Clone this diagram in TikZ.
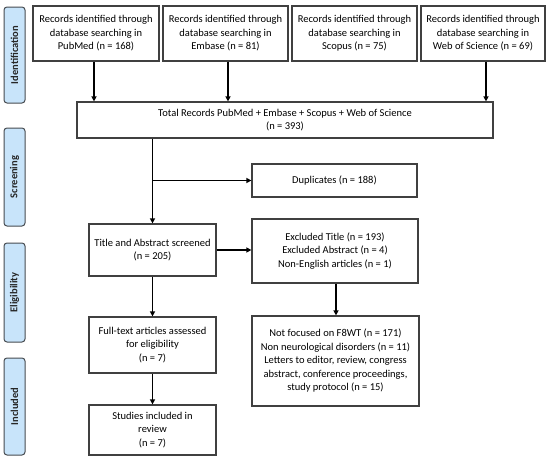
\documentclass[tikz,border=0pt]{standalone}
\usepackage{fontspec}
\setmainfont{Carlito}
\usetikzlibrary{arrows.meta}
\definecolor{sideblue}{RGB}{200,228,250}
\definecolor{sideedge}{RGB}{70,75,80}
\begin{document}
\begin{tikzpicture}[x=1pt,y=-1pt,
  box/.style={draw=black!75,line width=1.2pt,fill=white,inner sep=0pt,align=center,font=\fontsize{10.5}{13.5}\selectfont},
  side/.style={draw=sideedge,line width=1pt,fill=sideblue,rounded corners=3pt,inner sep=0pt},
  sidetxt/.style={rotate=90,font=\bfseries\fontsize{10.5}{12}\selectfont,text=black!85},
  arr/.style={line width=1.3pt,-{Triangle[length=5pt,width=5pt]}},
  ln/.style={line width=1.3pt}]
\useasboundingbox (0,0) rectangle (550,463);
% side labels
\newcommand{\sidelab}[4]{%
  \node[side,minimum width=21pt,minimum height=#3-#2] (#1) at (14.5,{(#2+#3)/2}) {};
  \node[sidetxt] at (#1.center) {#4};}
\sidelab{sid}{7}{103}{Identification}
\sidelab{sscr}{128}{226}{Screening}
\sidelab{selig}{243}{342}{Eligibility}
\sidelab{sinc}{358}{455}{Included}
% boxes
\newcommand{\bx}[6]{%
  \node[box,minimum width=#4-#2,minimum height=#5-#3] (#1) at ({(#2+#4)/2},{(#3+#5)/2}) {#6};}
\bx{pub}{33}{6}{159}{61}{Records identified through\\database searching in\\PubMed (n = 168)}
\bx{emb}{163}{6}{288}{61}{Records identified through\\database searching in\\Embase (n = 81)}
\bx{sco}{292}{6}{417}{61}{Records identified through\\database searching in\\Scopus (n = 75)}
\bx{wos}{421}{6}{545}{61}{Records identified through\\database searching in\\Web of Science (n = 69)}
\bx{tot}{77}{102}{493}{138}{Total Records PubMed + Embase + Scopus + Web of Science\\(n = 393)}
\bx{dup}{252}{164}{417}{197}{Duplicates (n = 188)}
\bx{tas}{89}{224}{216}{276}{Title and Abstract screened\\(n = 205)}
\bx{exc}{252}{219}{418}{283}{Excluded Title (n = 193)\\Excluded Abstract (n = 4)\\Non-English articles (n = 1)}
\bx{nf}{252}{316}{419}{406}{Not focused on F8WT (n = 171)\\Non neurological disorders (n = 11)\\Letters to editor, review, congress\\abstract, conference proceedings,\\study protocol (n = 15)}
\bx{ft}{89}{317}{216}{373}{Full-text articles assessed\\for eligibility\\(n = 7)}
\bx{st}{89}{405}{216}{455}{Studies included in\\review\\(n = 7)}
% connectors
\draw[arr] (pub.south -| 94,0) -- (tot.north -| 94,0);
\draw[arr] (emb.south -| 228,0) -- (tot.north -| 228,0);
\draw[arr] (wos.south -| 486,0) -- (tot.north -| 486,0);
\draw[arr] (tot.south -| tas.north) -- (tas.north);
\coordinate (br) at (tas.north |- dup.west);
\draw[arr] (br) -- (dup.west);
\draw[arr] (tas.east) -- (tas.east -| exc.west);
\draw[arr] (exc.south -| 336,0) -- (nf.north -| 336,0);
\draw[arr] (tas.south) -- (ft.north);
\draw[arr] (ft.south) -- (st.north);
\end{tikzpicture}
\end{document}
